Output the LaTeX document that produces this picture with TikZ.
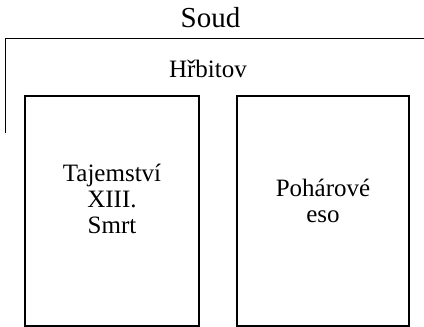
\documentclass[tikz,border=0pt]{standalone}
\usepackage{fontspec}
\setmainfont{Liberation Serif}
\begin{document}
\begin{tikzpicture}[x=1pt, y=-1pt, line width=1.8pt]
\tikzset{card/.style={draw, minimum width=#1, minimum height=230pt, inner sep=0pt},
  label text/.style={font=\fontsize{25}{26}\selectfont, align=center, inner sep=0pt}}
\useasboundingbox (0,0) rectangle (424,327);
\node[font=\fontsize{29}{30}\selectfont, inner sep=0pt, anchor=base] (soud) at (210.5,27.5) {Soud};
\draw (424,38.5) -- (5.5,38.5) -- (5.5,133);
\node[label text, anchor=base] (hrbitov) at (208,77) {Hřbitov};
\node[card=174pt] (tarot) at (112,211) {};
\node[card=172pt] (eso) at (323,211) {};
\node[label text] (tarottext) at (112,199) {Tajemství\\XIII.\\Smrt};
\node[label text] (esotext) at (323,201) {Pohárové\\eso};
\end{tikzpicture}
\end{document}
